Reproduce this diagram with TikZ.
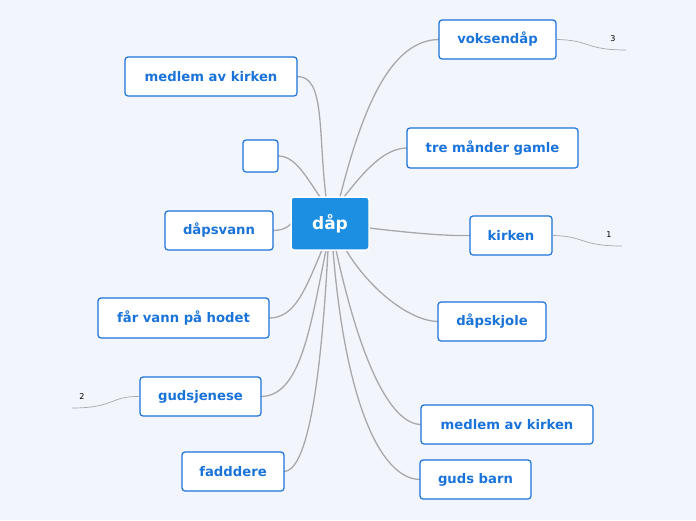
\documentclass[tikz,border=0pt]{standalone}
\usepackage{fontspec}
\setmainfont{DejaVu Sans}
\definecolor{bgc}{HTML}{F3F5FD}
\definecolor{topicblue}{HTML}{1C8FE3}
\definecolor{txtblue}{HTML}{1A73D9}
\definecolor{linegray}{HTML}{A8A8AC}
\tikzset{
  topic/.style={draw=txtblue, line width=1.2pt, fill=white, rounded corners=3pt,
    text=txtblue, font=\bfseries\fontsize{13.2}{15}\selectfont, inner sep=0pt},
  root/.style={draw=white, line width=1.5pt, fill=topicblue, rounded corners=3pt,
    text=white, font=\bfseries\fontsize{17}{19}\selectfont},
  branch/.style={draw=linegray, line width=1.3pt},
  tail/.style={draw=linegray, line width=0.7pt},
  num/.style={font=\fontsize{8}{10}\selectfont}
}
\begin{document}
\begin{tikzpicture}[x=1pt, y=-1pt]
  % background
  \fill[bgc] (0,0) rectangle (696,520);
  \useasboundingbox (0,0) rectangle (696,520);

  % branches from the centre (drawn first, so the boxes cover their ends)
  \coordinate (c) at (330,223.5);
  \draw[branch] (340,197) .. controls (362,110) and (390,40) .. (439,39.5);
  \draw[branch] (344,197) .. controls (365,170) and (385,148) .. (407,148);
  \draw[branch] (369,228) .. controls (420,234) and (450,236) .. (470,235.5);
  \draw[branch] (346,250) .. controls (370,290) and (410,321) .. (438,321.5);
  \draw[branch] (336,250) .. controls (360,360) and (390,424) .. (421,424.5);
  \draw[branch] (333,250) .. controls (345,400) and (380,479) .. (420,479.5);
  \draw[branch] (326,197) .. controls (318,130) and (325,76) .. (297,76.5);
  \draw[branch] (320,197) .. controls (305,175) and (295,156) .. (278,156);
  \draw[branch] (291,223.5) .. controls (285,230) and (280,230) .. (273,230.5);
  \draw[branch] (322,250) .. controls (305,290) and (295,318) .. (269,318);
  \draw[branch] (326,250) .. controls (310,330) and (300,396) .. (261,396.5);
  \draw[branch] (328,250) .. controls (320,400) and (305,471) .. (284,471.5);

  % the central topic
  \node[root, minimum width=78pt, minimum height=53pt] (dap) at (c) {dåp};

  % topics on the right
  \node[topic, minimum width=117pt, minimum height=39pt] (voksen) at (497.5,39.5) {voksendåp};
  \node[topic, minimum width=171pt, minimum height=40pt] (tre) at (492.5,148) {tre månder gamle};
  \node[topic, minimum width=82pt, minimum height=39pt] (kirken) at (511,235.5) {kirken};
  \node[topic, minimum width=108pt, minimum height=39pt] (kjole) at (492,321.5) {dåpskjole};
  \node[topic, minimum width=172pt, minimum height=39pt] (medlemB) at (507,424.5) {medlem av kirken};
  \node[topic, minimum width=111pt, minimum height=39pt] (barn) at (475.5,479.5) {guds barn};

  % topics on the left
  \node[topic, minimum width=172pt, minimum height=39pt] (medlemA) at (211,76.5) {medlem av kirken};
  \node[topic, minimum width=35pt, minimum height=32pt] (tom) at (260.5,156) {};
  \node[topic, minimum width=108pt, minimum height=39pt] (vann) at (219,230.5) {dåpsvann};
  \node[topic, minimum width=171pt, minimum height=40pt] (hodet) at (183.5,318) {får vann på hodet};
  \node[topic, minimum width=121pt, minimum height=39pt] (guds) at (200.5,396.5) {gudsjenese};
  \node[topic, minimum width=102pt, minimum height=39pt] (fadd) at (233,471.5) {fadddere};

  % small numbered tails
  \coordinate (t3) at (626,50);
  \coordinate (t1) at (622,246);
  \coordinate (t2) at (72,408);
  \draw[tail] (voksen.east) .. controls (590,40) and (585,50) .. (t3);
  \draw[tail] (kirken.east) .. controls (585,236) and (580,246) .. (t1);
  \draw[tail] (guds.west) .. controls (110,396) and (115,408) .. (t2);
  \node[num] (n3) at (613,39) {3};
  \node[num] (n1) at (609,235) {1};
  \node[num] (n2) at (82,397) {2};
\end{tikzpicture}
\end{document}
